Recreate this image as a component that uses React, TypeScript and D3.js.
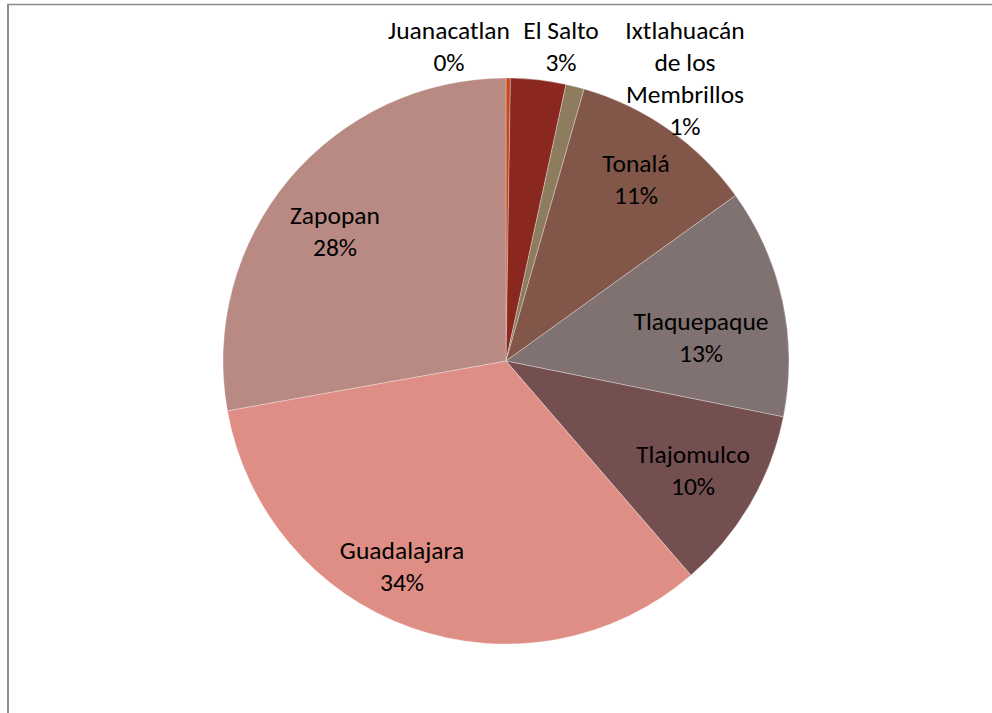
import React from "react";
import * as d3 from "d3";

const categories = [
  "Juanacatlan",
  "El Salto",
  "Ixtlahuacán de los Membrillos",
  "Tonalá",
  "Tlaquepaque",
  "Tlajomulco",
  "Guadalajara",
  "Zapopan",
];
const values = [0.25, 3.15, 1.05, 10.6, 13.1, 10.5, 33.5, 27.8];
const percentLabels = ["0%", "3%", "1%", "11%", "13%", "10%", "34%", "28%"];
const colors = [
  "#C7471E",
  "#8A271F",
  "#8E7C5F",
  "#82574A",
  "#807271",
  "#734F4F",
  "#DF8E85",
  "#B98984",
];
// label lines per slice
const labelLines = [
  ["Juanacatlan"],
  ["El Salto"],
  ["Ixtlahuacán", "de los", "Membrillos"],
  ["Tonalá"],
  ["Tlaquepaque"],
  ["Tlajomulco"],
  ["Guadalajara"],
  ["Zapopan"],
];
// label anchor positions [x, y of first line]
const labelPos: [number, number][] = [
  [449, 33],
  [561, 33],
  [685, 33],
  [636, 166],
  [701, 324],
  [693, 457],
  [402, 553],
  [335, 218],
];

const W = 992;
const H = 713;
const cx = 506;
const cy = 361;
const R = 283;
const LH = 32;

export default function App() {
  const pie = d3
    .pie<number>()
    .sort(null)
    .value((d) => d);
  const arcs = pie(values);
  const arcGen = d3
    .arc<d3.PieArcDatum<number>>()
    .innerRadius(0)
    .outerRadius(R);

  return (
    <svg
      width={W}
      height={H}
      style={{ position: "absolute", left: 0, top: 0, background: "#fff" }}
    >
      <line x1={7} y1={4.5} x2={W} y2={4.5} stroke="#8c8c8c" strokeWidth={1.5} />
      <line x1={8} y1={4} x2={8} y2={H} stroke="#8c8c8c" strokeWidth={2} />
      <g transform={`translate(${cx},${cy})`}>
        {arcs.map((a, i) => (
          <path
            key={categories[i]}
            d={arcGen(a) || ""}
            fill={colors[i]}
            stroke="#ffffff"
            strokeWidth={0.6}
            strokeOpacity={0.5}
          />
        ))}
      </g>
      <g
        fontFamily="Carlito, Calibri, Lato, 'Open Sans', sans-serif"
        fontSize={25.5}
        fill="#000"
        textAnchor="middle"
      >
        {labelLines.map((lines, i) => {
          const all = [...lines, percentLabels[i]];
          const [x, y] = labelPos[i];
          return (
            <text key={categories[i]} x={x} y={y} dominantBaseline="middle">
              {all.map((l, j) => (
                <tspan key={j} x={x} y={y + j * LH}>
                  {l}
                </tspan>
              ))}
            </text>
          );
        })}
      </g>
    </svg>
  );
}
